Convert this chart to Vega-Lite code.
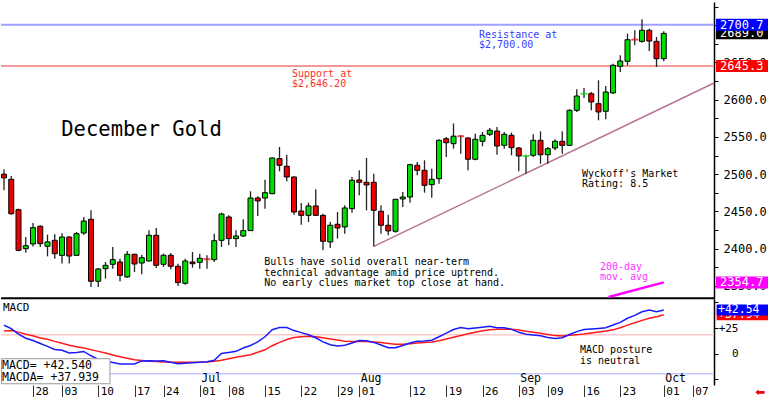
{
  "$schema": "https://vega.github.io/schema/vega-lite/v6.json",
  "padding": 0,
  "spacing": 0,
  "bounds": "flush",
  "background": "white",
  "config": {
    "view": {"stroke": null},
    "axis": {"grid": false, "labelFont": "DejaVu Sans Mono"},
    "text": {"font": "DejaVu Sans Mono"}
  },
  "datasets": {
    "candles": [
      {"i":0,"o":2499.9,"h":2506.6,"l":2478.4,"c":2495.0,"m":27.7,"s":22.0},
      {"i":1,"o":2493.1,"h":2497.5,"l":2445.6,"c":2446.9,"m":24.4,"s":22.6},
      {"i":2,"o":2452.3,"h":2453.7,"l":2396.5,"c":2397.8,"m":19.0,"s":21.0},
      {"i":3,"o":2400.0,"h":2415.7,"l":2394.6,"c":2404.0,"m":15.1,"s":19.0},
      {"i":4,"o":2406.3,"h":2434.4,"l":2403.0,"c":2428.2,"m":12.8,"s":17.4},
      {"i":5,"o":2430.0,"h":2431.4,"l":2402.2,"c":2406.7,"m":10.0,"s":15.3},
      {"i":6,"o":2403.2,"h":2418.8,"l":2389.7,"c":2409.0,"m":7.1,"s":14.0},
      {"i":7,"o":2411.2,"h":2419.3,"l":2386.6,"c":2393.2,"m":4.1,"s":12.0},
      {"i":8,"o":2391.0,"h":2420.6,"l":2379.9,"c":2415.6,"m":3.4,"s":10.2},
      {"i":9,"o":2415.6,"h":2416.5,"l":2379.9,"c":2390.1,"m":0.7,"s":8.2},
      {"i":10,"o":2391.0,"h":2422.4,"l":2390.0,"c":2420.1,"m":1.1,"s":6.8},
      {"i":11,"o":2421.0,"h":2442.5,"l":2418.8,"c":2437.1,"m":2.2,"s":5.5},
      {"i":12,"o":2439.4,"h":2451.5,"l":2348.5,"c":2356.2,"m":-2.0,"s":4.0},
      {"i":13,"o":2356.2,"h":2374.0,"l":2348.5,"c":2372.7,"m":-5.5,"s":2.3},
      {"i":14,"o":2373.1,"h":2382.1,"l":2359.7,"c":2377.6,"m":-7.2,"s":0.7},
      {"i":15,"o":2379.0,"h":2402.2,"l":2373.1,"c":2385.2,"m":-8.5,"s":-1.2},
      {"i":16,"o":2382.1,"h":2386.6,"l":2356.2,"c":2364.2,"m":-10.0,"s":-3.0},
      {"i":17,"o":2362.0,"h":2396.9,"l":2361.0,"c":2392.4,"m":-10.0,"s":-4.5},
      {"i":18,"o":2392.4,"h":2393.3,"l":2368.7,"c":2379.4,"m":-9.9,"s":-5.8},
      {"i":19,"o":2380.7,"h":2391.9,"l":2365.6,"c":2387.9,"m":-7.0,"s":-6.5},
      {"i":20,"o":2383.4,"h":2424.6,"l":2383.0,"c":2417.9,"m":-6.9,"s":-7.2},
      {"i":21,"o":2417.9,"h":2427.8,"l":2374.0,"c":2377.6,"m":-7.0,"s":-7.6},
      {"i":22,"o":2379.0,"h":2393.3,"l":2375.4,"c":2391.1,"m":-6.8,"s":-8.0},
      {"i":23,"o":2391.1,"h":2394.2,"l":2372.3,"c":2376.3,"m":-8.3,"s":-8.2},
      {"i":24,"o":2376.3,"h":2379.8,"l":2349.9,"c":2354.4,"m":-9.7,"s":-8.3},
      {"i":25,"o":2353.5,"h":2386.6,"l":2351.6,"c":2383.4,"m":-9.2,"s":-8.4},
      {"i":26,"o":2382.1,"h":2395.5,"l":2374.4,"c":2379.8,"m":-8.7,"s":-8.3},
      {"i":27,"o":2381.7,"h":2393.3,"l":2373.1,"c":2387.0,"m":-8.3,"s":-8.2},
      {"i":28,"o":2385.8,"h":2391.0,"l":2373.1,"c":2385.5,"m":-7.8,"s":-8.0},
      {"i":29,"o":2385.2,"h":2420.1,"l":2382.1,"c":2410.7,"m":-6.4,"s":-7.4},
      {"i":30,"o":2411.2,"h":2448.3,"l":2402.2,"c":2446.5,"m":0.2,"s":-6.3},
      {"i":31,"o":2442.5,"h":2444.7,"l":2404.5,"c":2413.5,"m":1.2,"s":-4.8},
      {"i":32,"o":2413.5,"h":2424.6,"l":2402.2,"c":2417.0,"m":2.3,"s":-3.5},
      {"i":33,"o":2417.0,"h":2439.4,"l":2415.6,"c":2424.2,"m":5.5,"s":-2.2},
      {"i":34,"o":2424.2,"h":2477.0,"l":2424.2,"c":2468.0,"m":8.0,"s":-1.0},
      {"i":35,"o":2468.0,"h":2470.3,"l":2443.8,"c":2464.0,"m":11.5,"s":1.4},
      {"i":36,"o":2468.0,"h":2492.6,"l":2453.7,"c":2475.1,"m":16.5,"s":3.8},
      {"i":37,"o":2473.8,"h":2522.5,"l":2473.0,"c":2521.7,"m":23.3,"s":7.8},
      {"i":38,"o":2520.8,"h":2536.5,"l":2503.8,"c":2511.9,"m":25.5,"s":11.0},
      {"i":39,"o":2510.6,"h":2526.1,"l":2490.4,"c":2496.2,"m":25.5,"s":13.8},
      {"i":40,"o":2496.2,"h":2496.8,"l":2445.4,"c":2449.2,"m":22.5,"s":15.7},
      {"i":41,"o":2450.5,"h":2461.3,"l":2432.2,"c":2444.7,"m":20.5,"s":16.5},
      {"i":42,"o":2444.7,"h":2461.7,"l":2435.8,"c":2457.3,"m":18.5,"s":16.9},
      {"i":43,"o":2457.3,"h":2479.7,"l":2444.0,"c":2444.7,"m":15.5,"s":16.5},
      {"i":44,"o":2444.7,"h":2447.0,"l":2397.8,"c":2409.9,"m":11.5,"s":15.5},
      {"i":45,"o":2409.0,"h":2435.8,"l":2400.9,"c":2431.4,"m":8.8,"s":14.4},
      {"i":46,"o":2432.7,"h":2449.2,"l":2413.5,"c":2427.7,"m":7.6,"s":13.3},
      {"i":47,"o":2429.1,"h":2458.2,"l":2420.1,"c":2454.6,"m":8.3,"s":12.1},
      {"i":48,"o":2453.7,"h":2496.2,"l":2448.3,"c":2491.8,"m":10.5,"s":12.0},
      {"i":49,"o":2492.2,"h":2505.2,"l":2471.6,"c":2489.1,"m":12.8,"s":12.0},
      {"i":50,"o":2489.1,"h":2521.7,"l":2451.5,"c":2485.5,"m":12.6,"s":12.0},
      {"i":51,"o":2489.1,"h":2500.6,"l":2403.0,"c":2451.5,"m":11.0,"s":11.5},
      {"i":52,"o":2450.2,"h":2458.2,"l":2420.1,"c":2431.4,"m":8.5,"s":10.8},
      {"i":53,"o":2431.4,"h":2445.6,"l":2417.9,"c":2423.8,"m":5.8,"s":10.0},
      {"i":54,"o":2423.3,"h":2466.3,"l":2421.4,"c":2466.3,"m":5.8,"s":9.1},
      {"i":55,"o":2466.7,"h":2476.0,"l":2456.0,"c":2469.3,"m":8.0,"s":9.1},
      {"i":56,"o":2469.3,"h":2514.0,"l":2461.7,"c":2512.7,"m":10.5,"s":9.6},
      {"i":57,"o":2511.9,"h":2516.3,"l":2498.5,"c":2505.2,"m":12.1,"s":10.4},
      {"i":58,"o":2505.2,"h":2518.6,"l":2475.1,"c":2485.0,"m":12.3,"s":11.0},
      {"i":59,"o":2485.9,"h":2507.3,"l":2468.4,"c":2493.1,"m":13.2,"s":11.4},
      {"i":60,"o":2493.9,"h":2546.8,"l":2487.2,"c":2545.4,"m":16.5,"s":12.7},
      {"i":61,"o":2547.6,"h":2549.9,"l":2523.0,"c":2542.2,"m":20.0,"s":14.3},
      {"i":62,"o":2540.9,"h":2568.0,"l":2534.2,"c":2551.0,"m":23.5,"s":16.0},
      {"i":63,"o":2550.9,"h":2552.2,"l":2527.5,"c":2550.7,"m":25.5,"s":17.7},
      {"i":64,"o":2548.5,"h":2549.9,"l":2505.2,"c":2520.0,"m":24.3,"s":19.4},
      {"i":65,"o":2520.0,"h":2554.3,"l":2518.6,"c":2546.8,"m":25.0,"s":20.9},
      {"i":66,"o":2544.1,"h":2556.6,"l":2537.4,"c":2552.2,"m":25.8,"s":22.4},
      {"i":67,"o":2553.5,"h":2561.9,"l":2551.2,"c":2558.9,"m":26.6,"s":23.2},
      {"i":68,"o":2557.9,"h":2563.3,"l":2526.1,"c":2537.8,"m":25.3,"s":23.7},
      {"i":69,"o":2538.7,"h":2556.6,"l":2534.2,"c":2553.5,"m":25.2,"s":23.8},
      {"i":70,"o":2552.2,"h":2555.7,"l":2525.3,"c":2535.5,"m":23.7,"s":23.7},
      {"i":71,"o":2535.1,"h":2536.5,"l":2503.8,"c":2524.4,"m":20.8,"s":23.0},
      {"i":72,"o":2524.3,"h":2526.1,"l":2500.6,"c":2524.5,"m":19.0,"s":21.8},
      {"i":73,"o":2525.3,"h":2553.5,"l":2523.0,"c":2545.4,"m":18.2,"s":20.9},
      {"i":74,"o":2545.4,"h":2557.5,"l":2514.0,"c":2526.1,"m":17.5,"s":20.0},
      {"i":75,"o":2526.1,"h":2536.5,"l":2514.0,"c":2534.2,"m":15.8,"s":18.8},
      {"i":76,"o":2535.1,"h":2546.8,"l":2532.0,"c":2544.1,"m":14.8,"s":17.6},
      {"i":77,"o":2544.1,"h":2557.5,"l":2527.5,"c":2538.7,"m":15.5,"s":17.3},
      {"i":78,"o":2538.7,"h":2587.1,"l":2537.8,"c":2585.7,"m":18.7,"s":17.9},
      {"i":79,"o":2585.7,"h":2613.9,"l":2583.5,"c":2604.9,"m":21.5,"s":18.5},
      {"i":80,"o":2607.9,"h":2615.7,"l":2602.3,"c":2608.1,"m":23.5,"s":19.2},
      {"i":81,"o":2608.0,"h":2610.3,"l":2585.7,"c":2596.9,"m":24.0,"s":20.2},
      {"i":82,"o":2594.6,"h":2626.0,"l":2572.3,"c":2583.5,"m":24.6,"s":21.1},
      {"i":83,"o":2584.4,"h":2618.3,"l":2573.6,"c":2610.3,"m":25.3,"s":22.0},
      {"i":84,"o":2609.0,"h":2648.3,"l":2608.0,"c":2646.1,"m":27.9,"s":23.2},
      {"i":85,"o":2644.8,"h":2659.6,"l":2637.1,"c":2651.9,"m":30.5,"s":25.3},
      {"i":86,"o":2651.5,"h":2688.6,"l":2646.1,"c":2680.5,"m":34.5,"s":27.8},
      {"i":87,"o":2680.6,"h":2693.1,"l":2673.0,"c":2680.4,"m":37.3,"s":30.2},
      {"i":88,"o":2678.3,"h":2707.9,"l":2676.5,"c":2693.1,"m":40.8,"s":32.4},
      {"i":89,"o":2693.1,"h":2695.3,"l":2665.3,"c":2678.7,"m":42.4,"s":34.4},
      {"i":90,"o":2678.3,"h":2684.1,"l":2643.8,"c":2655.0,"m":40.8,"s":36.0},
      {"i":91,"o":2655.0,"h":2691.8,"l":2651.5,"c":2689.0,"m":42.54,"s":37.94}
    ],
    "trend": [{"i":51,"p":2403.0},{"i":97.93,"p":2622.4}],
    "ma": [{"i":83.4,"p":2335.0},{"i":91,"p":2354.7}],
    "levels": [{"k":"support","v":2645.3},{"k":"resistance","v":2700.7},{"k":"frame","v":2333.5}],
    "macdlevels": [{"k":"upper","v":18.5},{"k":"lower","v":-19.5}],
    "tags": [
      {"k":"b","v":2689.0,"t":"2689.0"},
      {"k":"u","v":2700.7,"t":"2700.7"},
      {"k":"r","v":2645.3,"t":"2645.3"},
      {"k":"m","v":2354.7,"t":"2354.7"}
    ],
    "macdtags": [
      {"k":"r","v":37.94,"t":"+37.94"},
      {"k":"u","v":42.54,"t":"+42.54"}
    ],
    "months": [{"i":27,"m":"Jul"},{"i":49,"m":"Aug"},{"i":71,"m":"Sep"},{"i":91,"m":"Oct"}],
    "notes": [
      {"id":"title","t":"December Gold"},
      {"id":"sup","t":["Support at","$2,646.20"]},
      {"id":"res","t":["Resistance at","$2,700.00"]},
      {"id":"bulls","t":["Bulls have solid overall near-term","technical advantage amid price uptrend.","No early clues market top close at hand."]},
      {"id":"wyck","t":["Wyckoff's Market","Rating: 8.5"]},
      {"id":"ma","t":["200-day","mov. avg"]},
      {"id":"macd","t":"MACD"},
      {"id":"box","t":["MACD=  +42.540","MACDA= +37.939"]},
      {"id":"post","t":["MACD posture","is neutral"]},
      {"id":"arrow","t":"⬅"}
    ]
  },
  "vconcat": [
    {
      "width": 713,
      "height": 297,
      "layer": [
        {
          "data": {"name": "levels"},
          "transform": [{"filter": "datum.k=='support'"}],
          "mark": {"type": "rule", "color": "#f29a9a", "strokeWidth": 2},
          "encoding": {"y": {"field": "v", "type": "quantitative"}}
        },
        {
          "data": {"name": "levels"},
          "transform": [{"filter": "datum.k=='resistance'"}],
          "mark": {"type": "rule", "color": "#a0a0ff", "strokeWidth": 2},
          "encoding": {"y": {"field": "v", "type": "quantitative"}}
        },
        {
          "data": {"name": "levels"},
          "transform": [{"filter": "datum.k=='frame'"}],
          "mark": {"type": "rule", "color": "#000000", "strokeWidth": 2},
          "encoding": {"y": {"field": "v", "type": "quantitative"}}
        },
        {
          "data": {"name": "trend"},
          "mark": {"type": "line", "color": "#bb7397", "strokeWidth": 1.5},
          "encoding": {
            "x": {"field": "i", "type": "quantitative", "axis": null},
            "y": {"field": "p", "type": "quantitative"}
          }
        },
        {
          "data": {"name": "ma"},
          "mark": {"type": "line", "color": "#ff00ff", "strokeWidth": 2.5},
          "encoding": {
            "x": {"field": "i", "type": "quantitative", "axis": null},
            "y": {"field": "p", "type": "quantitative"}
          }
        },
        {
          "data": {"name": "candles"},
          "mark": {"type": "rule", "color": "#222222", "strokeWidth": 1.3},
          "encoding": {
            "x": {
              "field": "i", "type": "quantitative",
              "scale": {"domain": [-0.414, 97.93], "nice": false, "zero": false, "padding": 0},
              "axis": null
            },
            "y": {
              "field": "l", "type": "quantitative",
              "scale": {"domain": [2332.4, 2731.1], "nice": false, "zero": false, "padding": 0},
              "axis": {
                "orient": "right", "title": null,
                "values": [2350,2375,2400,2425,2450,2475,2500,2525,2550,2575,2600,2625,2650,2675,2700,2725],
                "tickCount": 50,
                "labelExpr": "datum.value % 50 == 0 ? format(datum.value, '.1f') : ''",
                "domain": true, "domainColor": "#000000", "domainWidth": 1.5,
                "tickSize": 4, "tickColor": "#000000",
                "labelAlign": "left", "labelBaseline": "middle", "labelPadding": 5,
                "labelFontSize": 12, "labelColor": "#000000", "labelOverlap": false, "labelFlush": false
              }
            },
            "y2": {"field": "h"}
          }
        },
        {
          "data": {"name": "candles"},
          "transform": [{"filter": "abs(datum.o - datum.c) >= 1"}],
          "mark": {"type": "bar", "size": 5, "stroke": "#000000", "strokeWidth": 1},
          "encoding": {
            "x": {"field": "i", "type": "quantitative", "axis": null},
            "y": {"field": "o", "type": "quantitative"},
            "y2": {"field": "c"},
            "fill": {"condition": {"test": "datum.c > datum.o", "value": "#00dd00"}, "value": "#ee0000"}
          }
        },
        {
          "data": {"name": "candles"},
          "transform": [{"filter": "abs(datum.o - datum.c) < 1"}],
          "mark": {"type": "tick", "orient": "horizontal", "size": 7, "thickness": 2},
          "encoding": {
            "x": {"field": "i", "type": "quantitative", "axis": null},
            "y": {"field": "o", "type": "quantitative"},
            "color": {"condition": {"test": "datum.c > datum.o", "value": "#00dd00"}, "value": "#ee0000"}
          }
        },
        {
          "data": {"name": "notes"},
          "transform": [{"filter": "datum.id=='title'"}],
          "mark": {"type": "text", "align": "left", "baseline": "alphabetic", "fontSize": 20.5, "color": "#000000"},
          "encoding": {"x": {"datum": 7.9, "axis": null}, "y": {"datum": 2551.2}, "text": {"field": "t"}}
        },
        {
          "data": {"name": "notes"},
          "transform": [{"filter": "datum.id=='sup'"}],
          "mark": {"type": "text", "align": "left", "baseline": "alphabetic", "fontSize": 10, "lineHeight": 10, "color": "#ff3030"},
          "encoding": {"x": {"datum": 39.72, "axis": null}, "y": {"datum": 2630.0}, "text": {"field": "t"}}
        },
        {
          "data": {"name": "notes"},
          "transform": [{"filter": "datum.id=='res'"}],
          "mark": {"type": "text", "align": "left", "baseline": "alphabetic", "fontSize": 10, "lineHeight": 10, "color": "#3a3aff"},
          "encoding": {"x": {"datum": 65.52, "axis": null}, "y": {"datum": 2683.2}, "text": {"field": "t"}}
        },
        {
          "data": {"name": "notes"},
          "transform": [{"filter": "datum.id=='bulls'"}],
          "mark": {"type": "text", "align": "left", "baseline": "alphabetic", "fontSize": 10, "lineHeight": 10.4, "color": "#000000"},
          "encoding": {"x": {"datum": 35.9, "axis": null}, "y": {"datum": 2377.4}, "text": {"field": "t"}}
        },
        {
          "data": {"name": "notes"},
          "transform": [{"filter": "datum.id=='wyck'"}],
          "mark": {"type": "text", "align": "left", "baseline": "alphabetic", "fontSize": 10, "lineHeight": 10.2, "color": "#000000"},
          "encoding": {"x": {"datum": 79.72, "axis": null}, "y": {"datum": 2495.8}, "text": {"field": "t"}}
        },
        {
          "data": {"name": "notes"},
          "transform": [{"filter": "datum.id=='ma'"}],
          "mark": {"type": "text", "align": "left", "baseline": "alphabetic", "fontSize": 10, "lineHeight": 10.2, "color": "#ff33ff"},
          "encoding": {"x": {"datum": 82.2, "axis": null}, "y": {"datum": 2371.4}, "text": {"field": "t"}}
        },
        {
          "data": {"name": "tags"},
          "transform": [{"filter": "datum.t=='2689.0'"}],
          "mark": {"type": "bar", "orient": "horizontal", "size": 12},
          "encoding": {
            "x": {"datum": 98.21, "axis": null}, "x2": {"datum": 106},
            "y": {"field": "v", "type": "quantitative"},
            "color": {"field": "k", "type": "nominal", "scale": {"domain": ["b","r","u","m"], "range": ["#000000","#ff0000","#0000ff","#ff00ff"]}, "legend": null}
          }
        },
        {
          "data": {"name": "tags"},
          "transform": [{"filter": "datum.t=='2689.0'"}],
          "mark": {"type": "text", "align": "left", "baseline": "middle", "fontSize": 12, "color": "#ffffff"},
          "encoding": {"x": {"datum": 98.76, "axis": null}, "y": {"field": "v", "type": "quantitative"}, "text": {"field": "t"}}
        },
        {
          "data": {"name": "tags"},
          "transform": [{"filter": "datum.t!='2689.0'"}],
          "mark": {"type": "bar", "orient": "horizontal", "size": 12},
          "encoding": {
            "x": {"datum": 98.21, "axis": null}, "x2": {"datum": 106},
            "y": {"field": "v", "type": "quantitative"},
            "color": {"field": "k", "type": "nominal", "scale": {"domain": ["b","r","u","m"], "range": ["#000000","#ff0000","#0000ff","#ff00ff"]}, "legend": null}
          }
        },
        {
          "data": {"name": "tags"},
          "transform": [{"filter": "datum.t!='2689.0'"}],
          "mark": {"type": "text", "align": "left", "baseline": "middle", "fontSize": 12, "color": "#ffffff"},
          "encoding": {"x": {"datum": 98.76, "axis": null}, "y": {"field": "v", "type": "quantitative"}, "text": {"field": "t"}}
        }
      ]
    },
    {
      "width": 713,
      "height": 86,
      "layer": [
        {
          "data": {"name": "macdlevels"},
          "transform": [{"filter": "datum.k=='upper'"}],
          "mark": {"type": "rule", "strokeWidth": 1.5, "color": "#ffc8c8"},
          "encoding": {"y": {"field": "v", "type": "quantitative"}}
        },
        {
          "data": {"name": "macdlevels"},
          "transform": [{"filter": "datum.k=='lower'"}],
          "mark": {"type": "rule", "strokeWidth": 1.5, "color": "#c8c8ff"},
          "encoding": {"y": {"field": "v", "type": "quantitative"}}
        },
        {
          "data": {"name": "candles"},
          "mark": {"type": "line", "color": "#ff1a1a", "strokeWidth": 1.5},
          "encoding": {
            "x": {
              "field": "i", "type": "quantitative",
              "scale": {"domain": [-0.414, 97.93], "nice": false, "zero": false, "padding": 0},
              "axis": {
                "orient": "bottom", "title": null,
                "values": [4,8,13,18,22,27,31,36,41,46,49,56,61,66,71,75,80,85,91,95],
                "tickCount": 60,
                "labelExpr": "['28','03','10','17','24','01','08','15','22','29','01','12','19','26','03','09','16','23','01','07'][indexof([4,8,13,18,22,27,31,36,41,46,49,56,61,66,71,75,80,85,91,95], datum.value)]",
                "domain": false, "ticks": true, "tickSize": 14, "tickColor": "#333333", "tickWidth": 1,
                "labelAlign": "left", "labelBaseline": "top", "labelPadding": -14, "labelOffset": 2,
                "labelFontSize": 11, "labelColor": "#000000", "labelOverlap": false, "labelFlush": false
              }
            },
            "y": {
              "field": "s", "type": "quantitative",
              "scale": {"domain": [-30.4, 53.2], "nice": false, "zero": false, "padding": 0},
              "axis": {
                "orient": "right", "title": null,
                "values": [-25, 0, 25, 50],
                "tickCount": 20,
                "labelExpr": "datum.value == 25 ? '+25' : (datum.value == 0 ? '0' : '')",
                "domain": true, "domainColor": "#000000", "domainWidth": 1.5,
                "tickSize": 4, "tickColor": "#000000",
                "labelAlign": "right", "labelBaseline": "middle", "labelPadding": 20,
                "labelFontSize": 11, "labelColor": "#000000", "labelOverlap": false, "labelFlush": false
              }
            }
          }
        },
        {
          "data": {"name": "candles"},
          "mark": {"type": "line", "color": "#1a1aff", "strokeWidth": 1.5},
          "encoding": {
            "x": {"field": "i", "type": "quantitative"},
            "y": {"field": "m", "type": "quantitative"}
          }
        },
        {
          "data": {"name": "notes"},
          "transform": [{"filter": "datum.id=='box'"}],
          "mark": {"type": "rect", "fill": "#ffffff", "stroke": "#999999", "strokeWidth": 1},
          "encoding": {"x": {"datum": -0.345}, "x2": {"datum": 14.62}, "y": {"datum": -4.86}, "y2": {"datum": -29.2}}
        },
        {
          "data": {"name": "notes"},
          "transform": [{"filter": "datum.id=='box'"}],
          "mark": {"type": "text", "align": "left", "baseline": "alphabetic", "fontSize": 11.5, "lineHeight": 12, "color": "#000000"},
          "encoding": {"x": {"datum": -0.276}, "y": {"datum": -14.4}, "text": {"field": "t"}}
        },
        {
          "data": {"name": "notes"},
          "transform": [{"filter": "datum.id=='macd'"}],
          "mark": {"type": "text", "align": "left", "baseline": "alphabetic", "fontSize": 11, "color": "#000000"},
          "encoding": {"x": {"datum": -0.138}, "y": {"datum": 41.2}, "text": {"field": "t"}}
        },
        {
          "data": {"name": "notes"},
          "transform": [{"filter": "datum.id=='post'"}],
          "mark": {"type": "text", "align": "left", "baseline": "alphabetic", "fontSize": 10, "lineHeight": 10.5, "color": "#000000"},
          "encoding": {"x": {"datum": 79.45}, "y": {"datum": 0.7}, "text": {"field": "t"}}
        },
        {
          "data": {"name": "months"},
          "mark": {"type": "text", "align": "left", "baseline": "alphabetic", "fontSize": 11.5, "dx": 1.5, "color": "#000000"},
          "encoding": {"x": {"field": "i", "type": "quantitative"}, "y": {"datum": -27.0}, "text": {"field": "m"}}
        },
        {
          "data": {"name": "notes"},
          "transform": [{"filter": "datum.id=='arrow'"}],
          "mark": {"type": "text", "align": "center", "baseline": "middle", "fontSize": 12, "font": "DejaVu Sans", "color": "#ee0000"},
          "encoding": {"x": {"datum": 104.3}, "y": {"datum": -36.8}, "text": {"field": "t"}}
        },
        {
          "data": {"name": "macdtags"},
          "transform": [{"filter": "datum.k=='r'"}],
          "mark": {"type": "bar", "orient": "horizontal", "size": 11},
          "encoding": {
            "x": {"datum": 98.3}, "x2": {"datum": 106},
            "y": {"field": "v", "type": "quantitative"},
            "color": {"field": "k", "type": "nominal", "scale": {"domain": ["r","u"], "range": ["#ff0000","#1a1aff"]}, "legend": null}
          }
        },
        {
          "data": {"name": "macdtags"},
          "transform": [{"filter": "datum.k=='r'"}],
          "mark": {"type": "text", "align": "left", "baseline": "middle", "fontSize": 11.5, "color": "#ffffff"},
          "encoding": {"x": {"datum": 98.48}, "y": {"field": "v", "type": "quantitative"}, "text": {"field": "t"}}
        },
        {
          "data": {"name": "macdtags"},
          "transform": [{"filter": "datum.k=='u'"}],
          "mark": {"type": "bar", "orient": "horizontal", "size": 11},
          "encoding": {
            "x": {"datum": 98.3}, "x2": {"datum": 106},
            "y": {"field": "v", "type": "quantitative"},
            "color": {"field": "k", "type": "nominal", "scale": {"domain": ["r","u"], "range": ["#ff0000","#1a1aff"]}, "legend": null}
          }
        },
        {
          "data": {"name": "macdtags"},
          "transform": [{"filter": "datum.k=='u'"}],
          "mark": {"type": "text", "align": "left", "baseline": "middle", "fontSize": 11.5, "color": "#ffffff"},
          "encoding": {"x": {"datum": 98.48}, "y": {"field": "v", "type": "quantitative"}, "text": {"field": "t"}}
        }
      ]
    }
  ]
}
